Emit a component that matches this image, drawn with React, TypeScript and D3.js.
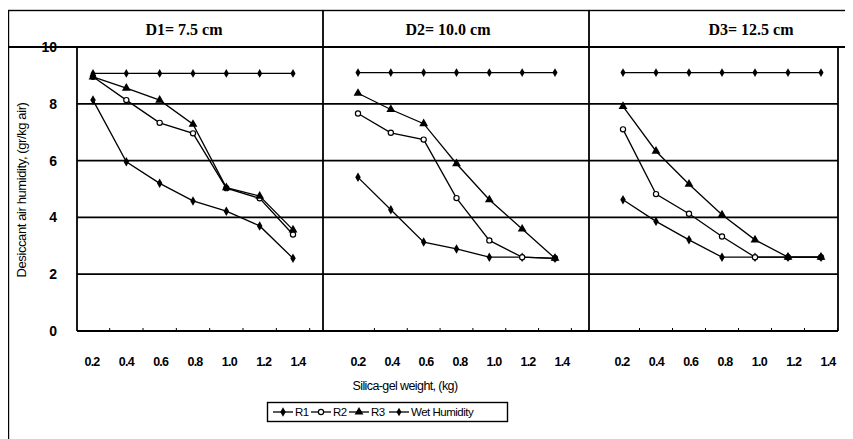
import * as d3 from 'd3';

const weights = ['0.2', '0.4', '0.6', '0.8', '1.0', '1.2', '1.4'];
const yTicks = [0, 2, 4, 6, 8, 10];

const panelTitles = ['D1= 7.5 cm', 'D2= 10.0 cm', 'D3= 12.5 cm'];

// values per panel (D1, D2, D3), gr/kg air
const r1 = [
  [8.13, 5.96, 5.2, 4.58, 4.22, 3.7, 2.56],
  [5.41, 4.27, 3.13, 2.89, 2.6, 2.6, 2.56],
  [4.62, 3.86, 3.21, 2.6, 2.6, 2.6, 2.6],
];
const r2 = [
  [8.95, 8.13, 7.33, 6.96, 5.03, 4.67, 3.4],
  [7.66, 6.98, 6.74, 4.68, 3.19, 2.6, 2.56],
  [7.1, 4.82, 4.13, 3.33, 2.6, 2.6, 2.6],
];
const r3 = [
  [8.95, 8.55, 8.13, 7.28, 5.05, 4.75, 3.56],
  [8.37, 7.8, 7.3, 5.89, 4.62, 3.59, 2.56],
  [7.91, 6.33, 5.17, 4.09, 3.21, 2.6, 2.6],
];
const wet = [
  [9.07, 9.07, 9.07, 9.07, 9.07, 9.07, 9.07],
  [9.1, 9.1, 9.1, 9.1, 9.1, 9.1, 9.1],
  [9.1, 9.1, 9.1, 9.1, 9.1, 9.1, 9.1],
];

const seriesNames = ['R1', 'R2', 'R3', 'Wet Humidity'];

// layout of the three sub-charts
const panels = [
  { left: 77, right: 323, first: 93, last: 293, labFirst: 92, labLast: 298, titleX: 184 },
  { left: 323, right: 589, first: 358, last: 555, labFirst: 358, labLast: 562, titleX: 448 },
  { left: 589, right: 838, first: 623, last: 821, labFirst: 622, labLast: 828, titleX: 751 },
];

const y = d3.scaleLinear().domain([0, 10]).range([331, 47]);

function Marker({ kind, x, y: cy }: { kind: number; x: number; y: number }) {
  if (kind === 1) {
    return <circle cx={x} cy={cy} r={2.6} fill="#fff" stroke="#000" strokeWidth={1.2} />;
  }
  const sym = kind === 2 ? d3.symbolTriangle : d3.symbolDiamond;
  const size = kind === 2 ? 34 : kind === 0 ? 26 : 22;
  return <path d={d3.symbol(sym, size)() || ''} transform={`translate(${x},${cy})`} fill="#000" />;
}

export default function App() {
  const line = d3.line<[number, number]>();
  const allSeries = [r1, r2, r3, wet];
  const sans = "'Liberation Sans', Arial, sans-serif";

  return (
    <svg width={845} height={431} style={{ display: 'block', background: '#fff' }}>
      <g transform="translate(-8,-8)">
        {/* outer frame */}
        <rect x={8.5} y={10.5} width={840} height={440} fill="none" stroke="#000" strokeWidth={1.4} />
        {/* title strip */}
        <line x1={8} x2={849} y1={y(10)} y2={y(10)} stroke="#000" strokeWidth={1.8} />
        <line x1={838} x2={838} y1={y(10)} y2={y(0)} stroke="#000" strokeWidth={1.8} />
        {panels.map((p, i) => (
          <text key={'t' + i} x={p.titleX} y={35} textAnchor="middle"
            fontFamily="'Liberation Serif', 'Times New Roman', serif" fontWeight="bold" fontSize={16}>
            {panelTitles[i]}
          </text>
        ))}
        {[323, 589].map((xx) => (
          <line key={'d' + xx} x1={xx} x2={xx} y1={11} y2={y(0)} stroke="#000" strokeWidth={1.8} />
        ))}
        <line x1={77} x2={77} y1={y(10)} y2={y(0)} stroke="#000" strokeWidth={1.8} />

        {/* gridlines */}
        {yTicks.map((t) => (
          <g key={'g' + t}>
            <line x1={77} x2={838} y1={y(t)} y2={y(t)} stroke="#000" strokeWidth={1.8} />
            <text x={57} y={y(t)} dy="0.36em" textAnchor="end" fontFamily={sans}
              fontWeight="bold" fontSize={14}>{t}</text>
          </g>
        ))}

        {panels.map((p, pi) => {
          const x = d3.scalePoint<string>().domain(weights).range([p.first, p.last]);
          const lx = d3.scalePoint<string>().domain(weights).range([p.labFirst, p.labLast]);
          const step = x.step();
          return (
            <g key={'p' + pi}>
              {weights.map((w) => (
                <g key={w}>
                  <line x1={(x(w) as number) + step / 2} x2={(x(w) as number) + step / 2}
                    y1={y(0)} y2={y(0) - 3} stroke="#000" strokeWidth={1} />
                  <text x={lx(w)} y={366} textAnchor="middle" fontFamily={sans} fontWeight="bold"
                    fontSize={12.5} letterSpacing={-0.8}>{w}</text>
                </g>
              ))}
              {allSeries.map((s, si) => {
                const pts = s[pi].map((v, k) => [x(weights[k]) as number, y(v)] as [number, number]);
                return (
                  <g key={'s' + si}>
                    <path d={line(pts) || ''} fill="none" stroke="#000" strokeWidth={1.3} />
                    {pts.map((pt, k) => (
                      <Marker key={k} kind={si} x={pt[0]} y={pt[1]} />
                    ))}
                  </g>
                );
              })}
            </g>
          );
        })}

        {/* axis titles */}
        <text x={405} y={390} textAnchor="middle" fontFamily={sans} fontSize={12.5} letterSpacing={-0.6}>
          Silica-gel weight, (kg)
        </text>
        <text transform="translate(26,190) rotate(-90)" textAnchor="middle" fontFamily={sans}
          fontSize={13} letterSpacing={-0.4}>
          Desiccant air humidity, (gr/kg air)
        </text>

        {/* legend */}
        <rect x={267.5} y={402.5} width={240} height={19} fill="#fff" stroke="#000" strokeWidth={1.4} />
        {seriesNames.map((n, i) => {
          const lx0 = [273, 311, 349, 389][i];
          return (
            <g key={n}>
              <line x1={lx0} x2={lx0 + 20} y1={412} y2={412} stroke="#000" strokeWidth={1.3} />
              <Marker kind={i} x={lx0 + 10} y={412} />
              <text x={lx0 + 22} y={412} dy="0.36em" fontFamily={sans} fontSize={11.5}
                letterSpacing={-0.5}>{n}</text>
            </g>
          );
        })}
      </g>
    </svg>
  );
}
